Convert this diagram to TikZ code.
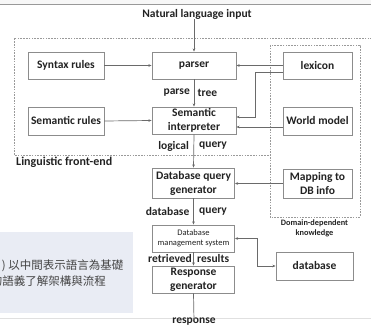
\documentclass[tikz,border=0pt]{standalone}
\usepackage{fontspec}
\setmainfont{Carlito}
\newfontfamily\cjk{Noto Sans CJK TC}
\usetikzlibrary{arrows.meta}
\definecolor{txt}{HTML}{222222}
\definecolor{boxline}{HTML}{8C8C8C}
\definecolor{conn}{HTML}{6A6A6A}
\definecolor{dash}{HTML}{9A9A9A}
\definecolor{panel}{HTML}{E9ECF4}
\definecolor{cjktxt}{HTML}{444444}
\tikzset{
  box/.style={draw=boxline, line width=0.8pt, fill=white, text=txt, font=\fontsize{11.5}{14}\selectfont\bfseries, align=center, inner sep=1pt},
  arr/.style={draw=conn, line width=0.7pt, -{Stealth[length=3.2pt,width=2.6pt]}},
  dualarr/.style={draw=conn, line width=0.7pt, {Stealth[length=3.2pt,width=2.6pt]}-{Stealth[length=3.2pt,width=2.6pt]}},
  dashbox/.style={draw=dash, line width=0.6pt, dash pattern=on 1.6pt off 1.2pt},
  lbl/.style={text=txt, font=\fontsize{11.5}{13}\selectfont\bfseries, inner sep=0pt}
}
\begin{document}
\begin{tikzpicture}[x=1pt,y=-1pt]
\useasboundingbox (0,0) rectangle (371,328);
\clip (0,0) rectangle (371,328);
% slide frame
\fill[black!3] (0,0) rectangle (371,5);
\draw[black!40, line width=1pt] (0,5) -- (371,5);
\draw[black!12, line width=0.8pt] (0,318) -- (371,318);
% left panel
\fill[panel] (0,232) rectangle (133,313);
\node[anchor=east, text=cjktxt, font=\cjk\fontsize{11.5}{14}\selectfont, inner sep=0pt] (cjka) at (123.5,266) {) 以中間表示語言為基礎};
\node[anchor=east, text=cjktxt, font=\cjk\fontsize{11.5}{14}\selectfont, inner sep=0pt] (cjkb) at (106,281) {的語義了解架構與流程};
% dashed regions
\draw[dashbox] (372,38) -- (14,38) -- (14,155) -- (270,155);
\draw[dashbox] (270,45) rectangle (360,217);
% nodes
\node[lbl] (input) at (197,14) {Natural language input};
\node[box, minimum width=84pt, minimum height=27pt] (parser) at (194,65.5) {parser};
\node[box, minimum width=84pt, minimum height=27pt] (interp) at (194,120.5) {Semantic\\interpreter};
\node[box, minimum width=76pt, minimum height=27pt] (syntax) at (66,65.5) {Syntax rules};
\node[box, minimum width=76pt, minimum height=28pt] (semrules) at (66,121) {Semantic rules};
\node[box, minimum width=69pt, minimum height=27pt] (lexicon) at (317.5,65.5) {lexicon};
\node[box, minimum width=69pt, minimum height=28pt] (world) at (317.5,121) {World model};
\node[box, minimum width=82pt, minimum height=30pt] (dbqg) at (193.5,183) {Database query\\generator};
\node[box, minimum width=69pt, minimum height=29pt] (mapping) at (317.5,183.5) {Mapping to\\DB info};
\node[box, minimum width=82pt, minimum height=27pt, font=\fontsize{8.5}{10}\selectfont] (dbms) at (193.5,238.5) {Database\\management system};
\node[box, minimum width=77pt, minimum height=28pt] (database) at (314.5,266) {database};
\node[box, minimum width=82pt, minimum height=27pt] (resp) at (193.5,279.5) {Response\\generator};
\node[lbl] (response) at (194,322) {response};
\node[lbl, anchor=west, font=\fontsize{12}{14}\selectfont\bfseries] (front) at (16,162) {Linguistic front-end};
\node[lbl, font=\fontsize{8.3}{10}\selectfont\bfseries, align=center] (domain) at (314.5,228) {Domain-dependent\\knowledge};
% edge labels
\node[lbl, anchor=east] (l1a) at (190,93) {parse};
\node[lbl, anchor=west] (l1b) at (197.5,93) {tree};
\node[lbl, anchor=east] (l2a) at (189,146) {logical};
\node[lbl, anchor=west] (l2b) at (199,146) {query};
\node[lbl, anchor=east] (l3a) at (189.5,211.5) {database};
\node[lbl, anchor=west] (l3b) at (199,211.5) {query};
\node[lbl, anchor=east] (l4a) at (192,259) {retrieved};
\node[lbl, anchor=west] (l4b) at (197,259) {results};
% connectors
\draw[arr] (input.south -| parser.north) -- (parser.north);
\draw[arr] (syntax.east) -- (parser.west);
\draw[arr] (lexicon.west) -- (parser.east);
\draw[arr] (parser.south) -- (interp.north);
\draw[arr] (semrules.east) -- (interp.west);
\coordinate (lxa) at (255,72);
\coordinate (lxb) at (255,117);
\draw[arr] (lexicon.west |- lxa) -- (lxa) -- (lxb) -- (interp.east |- lxb);
\draw[arr] (world.west |- 0,127) -- (interp.east |- 0,127);
\draw[arr] (interp.south) -- (dbqg.north);
\draw[arr] (mapping.west) -- (dbqg.east |- mapping.west);
\draw[arr] (dbqg.south) -- (dbms.north);
\coordinate (dba) at (257,238.5);
\coordinate (dbb) at (257,266);
\draw[dualarr] (dbms.east) -- (dba) -- (dbb) -- (database.west);
\draw[arr] (dbms.south) -- (resp.north);
\draw[arr] (resp.south) -- ([yshift=-3pt]response.north);
\end{tikzpicture}
\end{document}
